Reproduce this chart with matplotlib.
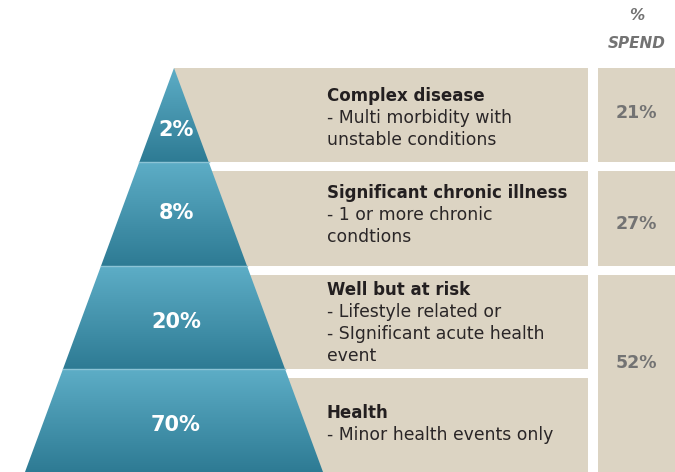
import matplotlib.pyplot as plt
import numpy as np
from matplotlib.patches import Polygon, Rectangle
from matplotlib.colors import LinearSegmentedColormap

plt.rcParams['font.family'] = ['DejaVu Sans']

# data
titles = ['Complex disease', 'Significant chronic illness', 'Well but at risk', 'Health']
details = [['- Multi morbidity with', 'unstable conditions'],
           ['- 1 or more chronic', 'condtions'],
           ['- Lifestyle related or', '- SIgnificant acute health', 'event'],
           ['- Minor health events only']]
population = ['2%', '8%', '20%', '70%']
spend = ['21%', '27%', '52%']
spend_rows = [[0], [1], [2, 3]]  # which tiers each spend box covers

# layout (pixel coords, y downwards)
W, H = 675, 472
apex_x, apex_y = 174, 68
base_half = 149
tier_top = [68, 171, 275, 378]
tier_bot = [162, 266, 369, 472]
layer_top = [68, 162, 266, 369]
layer_bot = [162, 266, 369, 472]
pop_y = [130, 213, 322, 425]
spend_y = [113, 224, 363]
text_y = [96, 193, 290, 413]
beige_right = 588
spend_left, spend_right = 598, 675

beige = '#dcd4c3'
teal = LinearSegmentedColormap.from_list('teal', ['#5dadc6', '#2e7b94'])

fig = plt.figure(figsize=(W / 100, H / 100), dpi=100)
ax = fig.add_axes([0, 0, 1, 1])
ax.set_xlim(0, W)
ax.set_ylim(H, 0)
ax.axis('off')

def half_width(y):
    return (y - apex_y) * base_half / (H - apex_y)

# beige rows behind the pyramid
for t, b in zip(tier_top, tier_bot):
    ax.add_patch(Rectangle((apex_x, t), beige_right - apex_x, b - t, color=beige, lw=0, zorder=1))

# spend column
for rows, val, y in zip(spend_rows, spend, spend_y):
    t = tier_top[rows[0]]
    b = tier_bot[rows[-1]]
    ax.add_patch(Rectangle((spend_left, t), spend_right - spend_left, b - t, color=beige, lw=0, zorder=1))
    ax.text(636, y, val, ha='center', va='center', fontsize=12.5, fontweight='bold',
            color='#737373', zorder=3)

ax.text(637, 16, '%', ha='center', va='center', fontsize=11, fontstyle='italic',
        fontweight='bold', color='#737373')
ax.text(637, 44, 'SPEND', ha='center', va='center', fontsize=11, fontstyle='italic',
        fontweight='bold', color='#737373')

# pyramid layers with vertical gradient
grad = np.linspace(0, 1, 100).reshape(-1, 1)
for i, (t, b) in enumerate(zip(layer_top, layer_bot)):
    wt, wb = half_width(t), half_width(b)
    poly = Polygon([(apex_x - wt, t), (apex_x + wt, t), (apex_x + wb, b), (apex_x - wb, b)],
                   closed=True, facecolor='none', edgecolor='none')
    ax.add_patch(poly)
    im = ax.imshow(grad, cmap=teal, aspect='auto', extent=(apex_x - wb, apex_x + wb, b, t),
                   zorder=2, interpolation='bilinear')
    im.set_clip_path(poly)
    if i > 0:
        ax.plot([apex_x - wt, apex_x + wt], [t, t], color='#8cc4d6', lw=1, zorder=2.5)
    ax.text(apex_x + 2, pop_y[i], population[i], ha='center', va='center',
            fontsize=15, fontweight='bold', color='white', zorder=3)

# tier descriptions
text_x = 327
for title, lines, y0 in zip(titles, details, text_y):
    ax.text(text_x, y0, title, ha='left', va='center', fontsize=12, fontweight='bold',
            color='#231f20', zorder=3)
    for k, line in enumerate(lines):
        ax.text(text_x, y0 + 22 * (k + 1), line, ha='left', va='center', fontsize=12.4,
                color='#2a2627', zorder=3)

fig.savefig('out.png', dpi=100)
